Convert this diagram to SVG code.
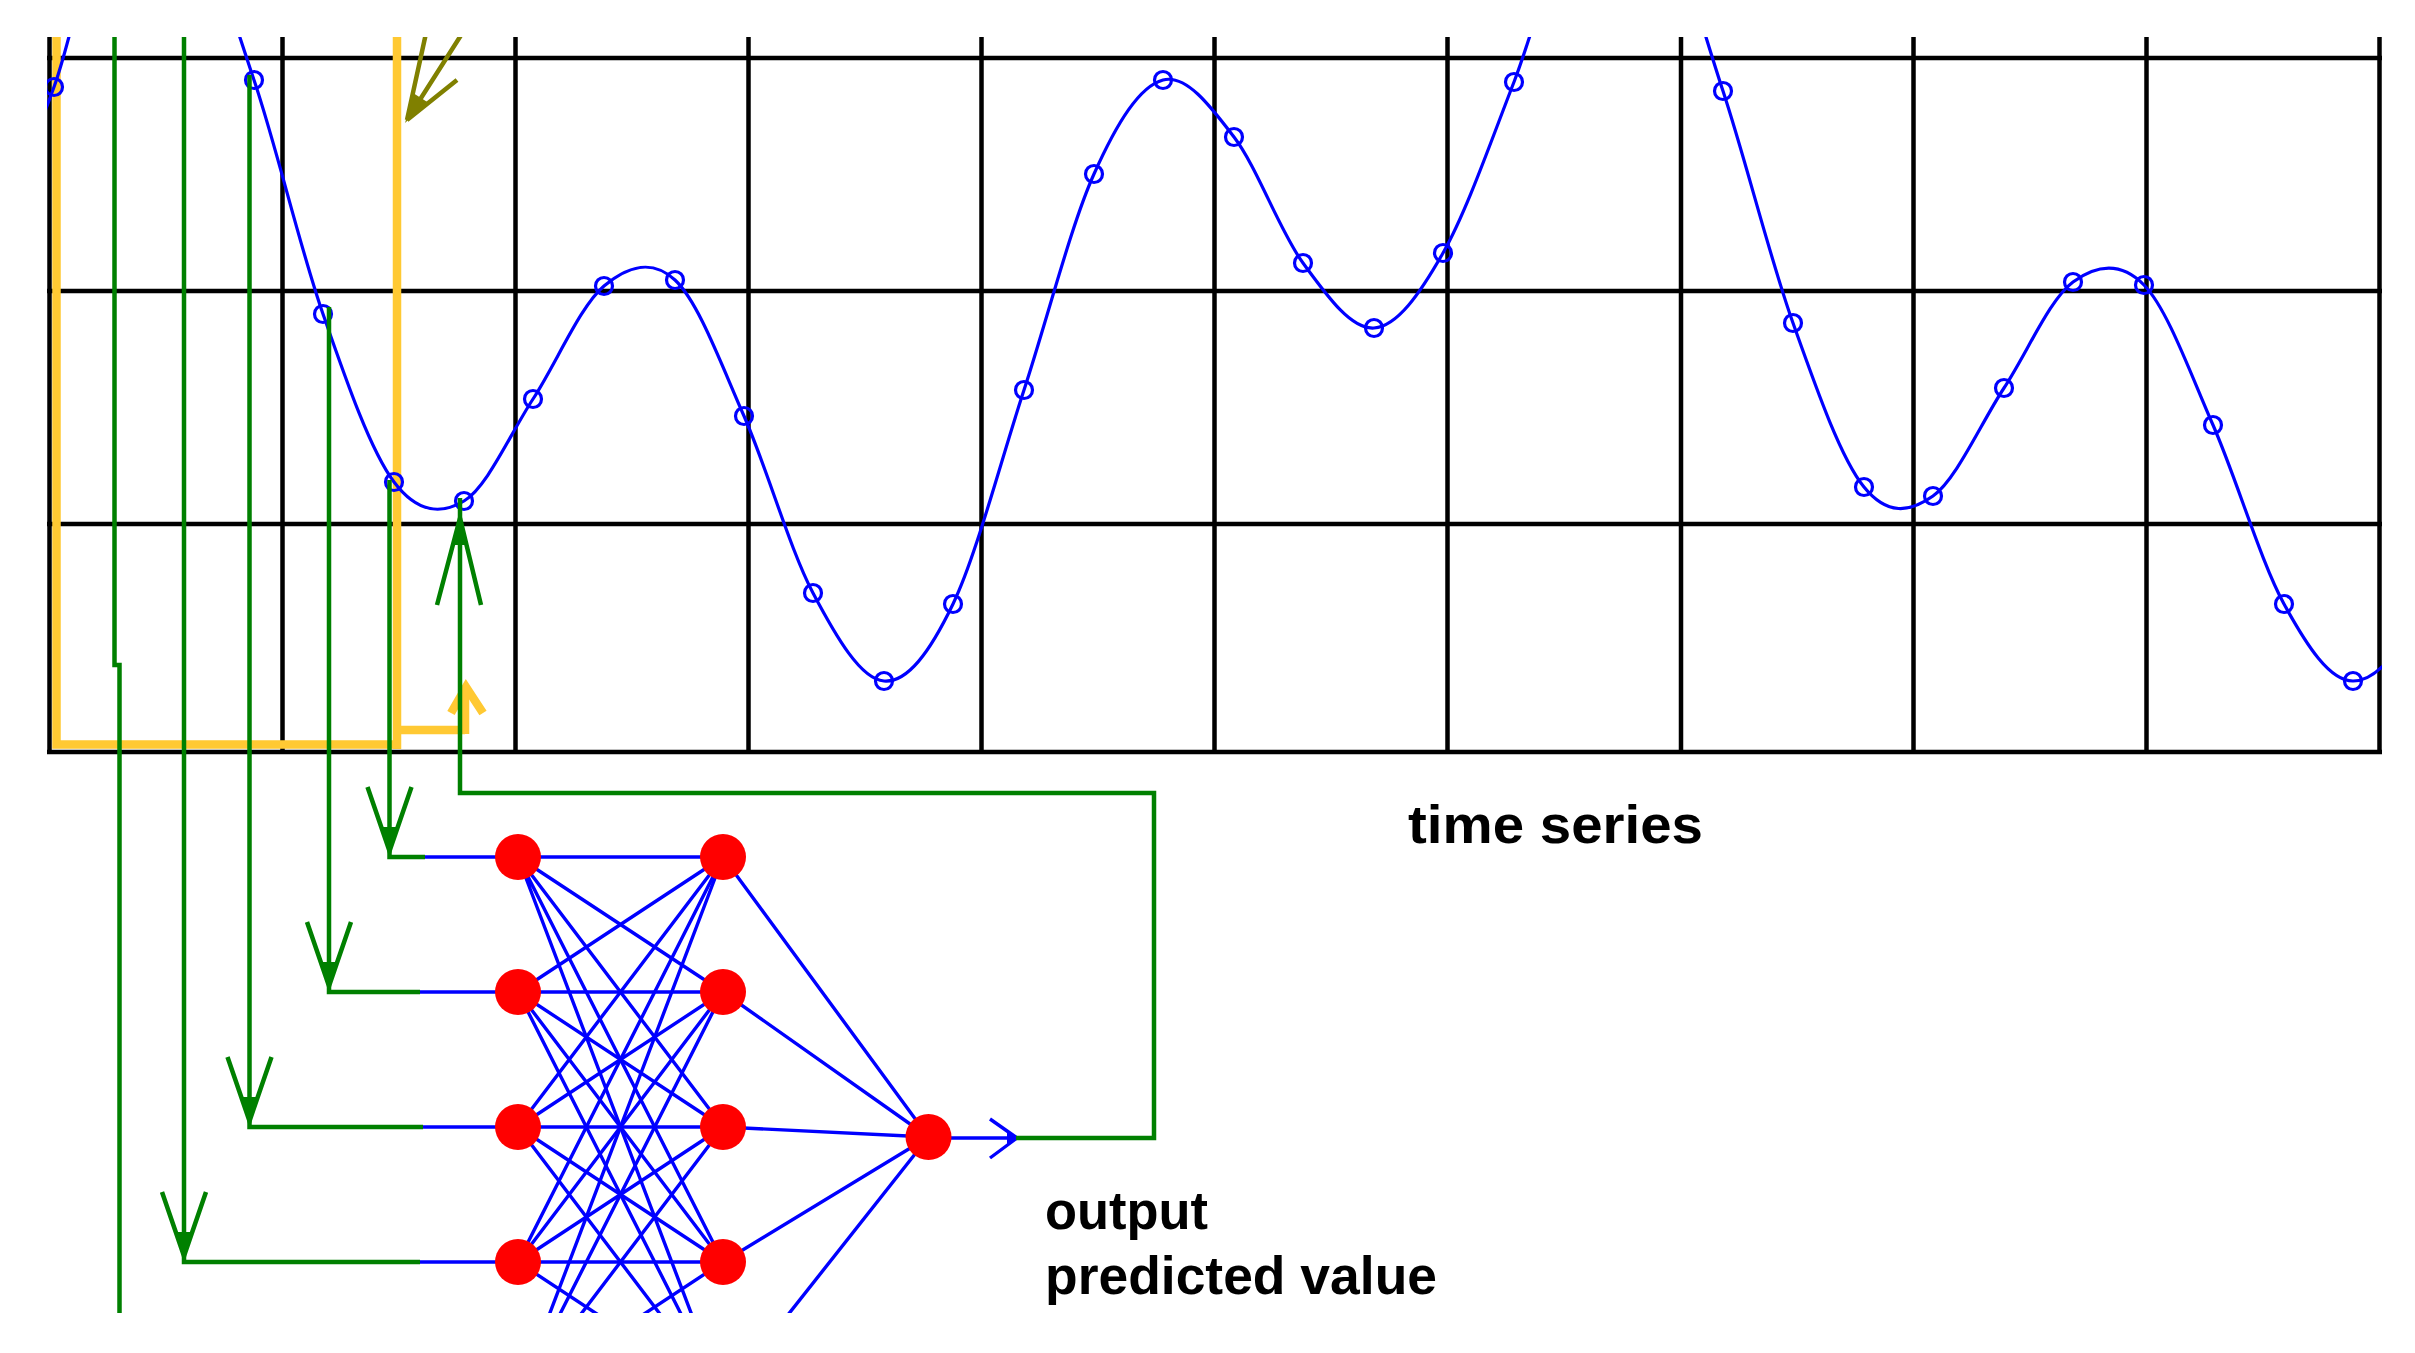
<svg xmlns="http://www.w3.org/2000/svg" width="2415" height="1353" viewBox="0 0 2415 1353">
<style>
.grid{stroke:#000;stroke-width:4.5;fill:none}
.yel{stroke:#FFC933;stroke-width:8.5;fill:none}
.grn{stroke:#008000;stroke-width:4.5;fill:none}
.gfill{fill:#008000}
.blu{stroke:#0000FF;stroke-width:3.2;fill:none}
.net{stroke:#0000FF;stroke-width:3.4;fill:none}
.dot{stroke:#0000FF;stroke-width:3.2;fill:none}
.node{fill:#FF0000}
.olv{stroke:#808000;stroke-width:4.5;fill:none}
.lbl{font-family:"Liberation Sans",Arial,sans-serif;font-weight:bold;font-size:54px;fill:#000}
</style>
<defs>
<clipPath id="plotClip"><rect x="47" y="37" width="2335" height="720"/></clipPath>
<clipPath id="allClip"><rect x="0" y="37" width="2415" height="1276"/></clipPath>
</defs>
<rect x="0" y="0" width="2415" height="1353" fill="#fff"/>
<g id="time-series-plot">
<g id="grid">
<path class="grid" d="M49.5,37V752 M282.5,37V752 M515.5,37V752 M748.5,37V752 M981.5,37V752 M1214.5,37V752 M1447.5,37V752 M1681,37V752 M1913.5,37V752 M2146.5,37V752 M2379.5,37V752"/>
<path class="grid" d="M47,58H2382 M47,291H2382 M47,524H2382 M47,752H2382"/>
</g>
<g id="window" clip-path="url(#allClip)">
<path class="yel" d="M56.5,30V744.5H397 M397,30V749"/>
<path class="yel" d="M397,730H465 M465,734V688"/>
<path class="yel" stroke-width="7" d="M451,713L466,687L483,713"/>
</g>
<g id="series" clip-path="url(#plotClip)">
<path class="blu" d="M-16,250 C0,220 32.33,147 54,87 C75.67,27 92.33,-78.83 114,-110 C135.67,-141.17 160.67,-131.67 184,-100 C207.33,-68.33 230.83,11 254,80 C277.17,149 299.67,247 323,314 C346.33,381 370.5,450.83 394,482 C417.5,513.17 440.83,514.83 464,501 C487.17,487.17 509.67,434.83 533,399 C556.33,363.17 580.33,305.83 604,286 C627.67,266.17 651.67,258.33 675,280 C698.33,301.67 721,363.83 744,416 C767,468.17 789.67,548.83 813,593 C836.33,637.17 860.67,679.17 884,681 C907.33,682.83 929.67,652.5 953,604 C976.33,555.5 1000.5,461.67 1024,390 C1047.5,318.33 1070.83,225.67 1094,174 C1117.17,122.33 1139.67,86.17 1163,80 C1186.33,73.83 1210.67,106.5 1234,137 C1257.33,167.5 1279.67,231.17 1303,263 C1326.33,294.83 1350.67,329.67 1374,328 C1397.33,326.33 1419.67,294 1443,253 C1466.33,212 1490.5,142.5 1514,82 C1537.5,21.5 1560.67,-79.67 1584,-110 C1607.33,-140.33 1630.83,-133.5 1654,-100 C1677.17,-66.5 1699.83,20.5 1723,91 C1746.17,161.5 1769.5,257 1793,323 C1816.5,389 1840.67,458.17 1864,487 C1887.33,515.83 1909.67,512.5 1933,496 C1956.33,479.5 1980.67,423.67 2004,388 C2027.33,352.33 2049.67,299.17 2073,282 C2096.33,264.83 2120.67,261.17 2144,285 C2167.33,308.83 2189.67,371.83 2213,425 C2236.33,478.17 2260.67,561.33 2284,604 C2307.33,646.67 2329.83,681 2353,681 C2376.17,681 2399.67,652.5 2423,604"/>
<g class="dot">
<circle cx="54" cy="87" r="8.5"/>
<circle cx="254" cy="80" r="8.5"/><circle cx="323" cy="314" r="8.5"/><circle cx="394" cy="482" r="8.5"/><circle cx="464" cy="501" r="8.5"/><circle cx="533" cy="399" r="8.5"/><circle cx="604" cy="286" r="8.5"/><circle cx="675" cy="280" r="8.5"/><circle cx="744" cy="416" r="8.5"/><circle cx="813" cy="593" r="8.5"/><circle cx="884" cy="681" r="8.5"/><circle cx="953" cy="604" r="8.5"/><circle cx="1024" cy="390" r="8.5"/><circle cx="1094" cy="174" r="8.5"/><circle cx="1163" cy="80" r="8.5"/><circle cx="1234" cy="137" r="8.5"/><circle cx="1303" cy="263" r="8.5"/><circle cx="1374" cy="328" r="8.5"/><circle cx="1443" cy="253" r="8.5"/><circle cx="1514" cy="82" r="8.5"/>
<circle cx="1723" cy="91" r="8.5"/><circle cx="1793" cy="323" r="8.5"/><circle cx="1864" cy="487" r="8.5"/><circle cx="1933" cy="496" r="8.5"/><circle cx="2004" cy="388" r="8.5"/><circle cx="2073" cy="282" r="8.5"/><circle cx="2144" cy="285" r="8.5"/><circle cx="2213" cy="425" r="8.5"/><circle cx="2284" cy="604" r="8.5"/><circle cx="2353" cy="681" r="8.5"/>
</g>
</g>
<g id="olive-arrow" clip-path="url(#allClip)">
<path class="olv" d="M407,120L472,18 M407,120L430,15 M407,120L457,80"/>
<path fill="#808000" d="M405,123L414.3,93.7L427.7,102.3Z"/>
</g>
</g>
<g id="connectors" clip-path="url(#allClip)">
<g id="network-links" class="net">
<path d="M518,857L723,857 M518,857L723,992 M518,857L723,1127 M518,857L723,1262 M518,857L723,1397"/>
<path d="M518,992L723,857 M518,992L723,992 M518,992L723,1127 M518,992L723,1262 M518,992L723,1397"/>
<path d="M518,1127L723,857 M518,1127L723,992 M518,1127L723,1127 M518,1127L723,1262 M518,1127L723,1397"/>
<path d="M518,1262L723,857 M518,1262L723,992 M518,1262L723,1127 M518,1262L723,1262 M518,1262L723,1397"/>
<path d="M518,1397L723,857 M518,1397L723,992 M518,1397L723,1127 M518,1397L723,1262 M518,1397L723,1397"/>
<path d="M723,857L928.5,1137 M723,992L928.5,1137 M723,1127L928.5,1137 M723,1262L928.5,1137 M723,1397L928.5,1137"/>
<path d="M425,857H518 M420,992H518 M423,1127H518 M420,1262H518 M420,1397H518"/>
<path d="M928.5,1138H1016 M990,1119L1017,1138L990,1158"/>
</g>
<path fill="#0000FF" d="M1019,1138L1007,1131V1145Z"/>
<g id="input-feeds">
<path class="grn" d="M389.5,480V857H425"/>
<path class="grn" d="M329,307V992H420"/>
<path class="grn" d="M249.5,75V1127H423"/>
<path class="grn" d="M184,37V1262H420"/>
<path class="grn" d="M114.5,37V665H119.5V1397H420"/>
<path class="grn" d="M367.5,787L389.5,851L411.5,787 M307,922L329,986L351,922 M227.5,1057L249.5,1121L271.5,1057 M162,1192L184,1256L206,1192"/>
<path class="gfill" d="M389.5,853L381.5,827H397.5Z M329,988L321,962H337Z M249.5,1123L241.5,1097H257.5Z M184,1258L176,1232H192Z"/>
</g>
<g id="feedback">
<path class="grn" d="M1016,1138H1154V793H460V498"/>
<path class="grn" d="M437,605L460,518L481,605"/>
<path class="gfill" d="M460,514L452,545H468Z"/>
</g>
</g>
<g id="input-nodes" class="node">
<circle id="in1" cx="518" cy="857" r="23"/>
<circle id="in2" cx="518" cy="992" r="23"/>
<circle id="in3" cx="518" cy="1127" r="23"/>
<circle id="in4" cx="518" cy="1262" r="23"/>
</g>
<g id="hidden-nodes" class="node">
<circle id="h1" cx="723" cy="857" r="23"/>
<circle id="h2" cx="723" cy="992" r="23"/>
<circle id="h3" cx="723" cy="1127" r="23"/>
<circle id="h4" cx="723" cy="1262" r="23"/>
</g>
<g id="output-node" class="node">
<circle id="out" cx="928.5" cy="1137" r="23"/>
</g>
<g id="labels">
<text class="lbl" x="1408" y="843" textLength="295" lengthAdjust="spacingAndGlyphs">time series</text>
<text class="lbl" x="1045" y="1229" textLength="163" lengthAdjust="spacingAndGlyphs">output</text>
<text class="lbl" x="1045" y="1294" textLength="392" lengthAdjust="spacingAndGlyphs">predicted value</text>
</g>
</svg>
